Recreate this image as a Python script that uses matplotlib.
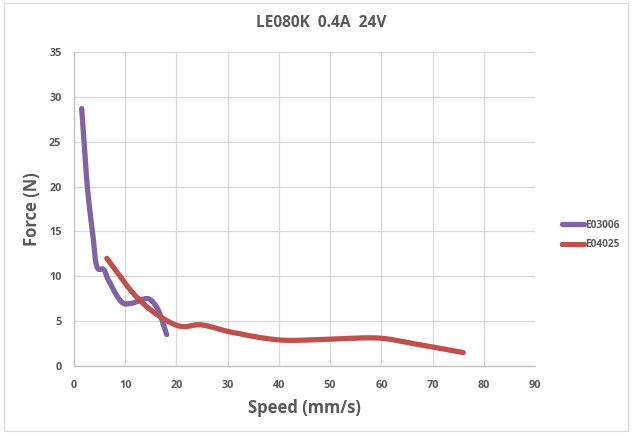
import numpy as np
import matplotlib
matplotlib.use("Agg")
import matplotlib.pyplot as plt
from matplotlib.patches import Rectangle

title = "LE080K  0.4A  24V"
series_names = ["E03006", "E04025"]
e03006_speed = [1.5, 2.0, 2.6, 3.65, 4.75, 5.7, 6.7, 9.6, 11.3, 14.5, 16.1, 18.1]
e03006_force = [28.7, 24.8, 20.0, 14.8, 10.8, 10.8, 9.6, 7.0, 7.0, 7.5, 6.6, 3.5]
e04025_speed = [6.4, 12.2, 16.8, 21.0, 24.6, 30.5, 40.2, 50.0, 59.8, 66.2, 76.0]
e04025_force = [12.0, 7.7, 5.5, 4.4, 4.6, 3.8, 2.9, 3.0, 3.1, 2.5, 1.5]
x_ticks = [0, 10, 20, 30, 40, 50, 60, 70, 80, 90]
y_ticks = [0, 5, 10, 15, 20, 25, 30, 35]
colors = ["#8064A2", "#C0504D"]


def smooth(xs, ys, n=40, alpha=0.5):
    # centripetal Catmull-Rom spline through the data points (in screen-like units)
    sx, sy = 5.12, 8.97  # approx pixels per data unit, to parameterize in display space
    p = np.column_stack([np.array(xs) * sx, np.array(ys) * sy]).astype(float)
    p = np.vstack([p[0] * 2 - p[1], p, p[-1] * 2 - p[-2]])
    out = []
    for i in range(1, len(p) - 2):
        P0, P1, P2, P3 = p[i - 1], p[i], p[i + 1], p[i + 2]
        t0 = 0.0
        t1 = t0 + max(np.linalg.norm(P1 - P0), 1e-6) ** alpha
        t2 = t1 + max(np.linalg.norm(P2 - P1), 1e-6) ** alpha
        t3 = t2 + max(np.linalg.norm(P3 - P2), 1e-6) ** alpha
        t = np.linspace(t1, t2, n, endpoint=False)[:, None]
        A1 = (t1 - t) / (t1 - t0) * P0 + (t - t0) / (t1 - t0) * P1
        A2 = (t2 - t) / (t2 - t1) * P1 + (t - t1) / (t2 - t1) * P2
        A3 = (t3 - t) / (t3 - t2) * P2 + (t - t2) / (t3 - t2) * P3
        B1 = (t2 - t) / (t2 - t0) * A1 + (t - t0) / (t2 - t0) * A2
        B2 = (t3 - t) / (t3 - t1) * A2 + (t - t1) / (t3 - t1) * A3
        C = (t2 - t) / (t2 - t1) * B1 + (t - t1) / (t2 - t1) * B2
        out.append(C)
    out.append(p[-2][None, :])
    out = np.vstack(out)
    return out[:, 0] / sx, out[:, 1] / sy


plt.rcParams['font.family'] = ['Open Sans', 'DejaVu Sans']
text_color = "#595959"

fig = plt.figure(figsize=(6.32, 4.33), dpi=100)
ax = fig.add_axes([74 / 632, 1 - 366 / 433, (535 - 74) / 632, (366 - 52) / 433])

for xs, ys, c, name in [(e03006_speed, e03006_force, colors[0], series_names[0]),
                        (e04025_speed, e04025_force, colors[1], series_names[1])]:
    cx, cy = smooth(xs, ys)
    ax.plot(cx, cy, color=c, lw=3.8, solid_capstyle='round', solid_joinstyle='round', label=name)

ax.set_xlim(0, 90)
ax.set_ylim(0, 35)
ax.set_xticks(x_ticks)
ax.set_yticks(y_ticks)
ax.grid(True, color="#D9D9D9", lw=0.9)
ax.set_axisbelow(True)
for s in ["top", "right"]:
    ax.spines[s].set_visible(False)
for s in ["left", "bottom"]:
    ax.spines[s].set_color("#BFBFBF")
    ax.spines[s].set_linewidth(0.9)
ax.tick_params(length=0, labelsize=7.8, labelcolor=text_color)
ax.tick_params(axis='x', pad=10)
ax.tick_params(axis='y', pad=9)
for lab in ax.get_xticklabels() + ax.get_yticklabels():
    lab.set_fontweight('bold')

ax.set_xlabel("Speed (mm/s)", fontsize=12, fontweight='bold', color=text_color, labelpad=6)
ax.set_ylabel("Force (N)", fontsize=12, fontweight='bold', color=text_color, labelpad=6)
fig.text(321 / 632, 1 - 23 / 433, title, ha='center', va='center', fontsize=11.2,
         fontweight='bold', color=text_color)

leg = fig.legend(loc='center left', bbox_to_anchor=(553 / 632, 1 - 235 / 433), frameon=False,
                 handlelength=2.2, handletextpad=0.1, labelspacing=0.85,
                 prop={'size': 7.3, 'weight': 'bold'})
for t in leg.get_texts():
    t.set_color(text_color)

fig.patches.append(Rectangle((4 / 632, 2 / 433), 624 / 632, 428 / 433, transform=fig.transFigure,
                             fill=False, edgecolor="#D9D9D9", lw=0.8))

fig.savefig("out.png", dpi=100)
